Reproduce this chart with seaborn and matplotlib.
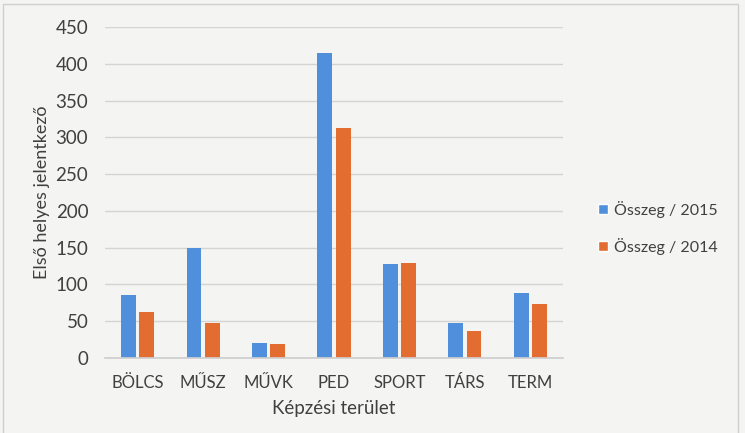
import matplotlib
matplotlib.use("Agg")
import matplotlib.pyplot as plt
import seaborn as sns
import pandas as pd
from matplotlib.patches import Rectangle

categories = ["BÖLCS", "MŰSZ", "MŰVK", "PED", "SPORT", "TÁRS", "TERM"]
values_2015 = [86, 150, 20, 414, 128, 47, 89]
values_2014 = [63, 48, 19, 313, 129, 37, 73]
series_names = ["Összeg / 2015", "Összeg / 2014"]
yticks = [0, 50, 100, 150, 200, 250, 300, 350, 400, 450]

df = pd.DataFrame({
    "cat": categories * 2,
    "val": values_2015 + values_2014,
    "series": [series_names[0]] * len(categories) + [series_names[1]] * len(categories),
})

sns.set_theme(style="white")
plt.rcParams["font.family"] = ["Lato", "DejaVu Sans"]

bg = "#f4f4f3"
fig = plt.figure(figsize=(7.45, 4.33), dpi=100, facecolor=bg)
ax = fig.add_axes([105 / 745, 1 - 358 / 433, (563 - 105) / 745, (358 - 27) / 433])
ax.set_facecolor(bg)

sns.barplot(data=df, x="cat", y="val", hue="series", order=categories,
            hue_order=series_names, palette=["#4f8fdb", "#e36c31"],
            width=0.56, saturation=1, ax=ax, legend=True)

# narrow bars leaving a small gap within each group
for p in ax.patches:
    w = p.get_width()
    if w > 0:
        c = p.get_x() + w / 2
        nw = 0.228
        p.set_width(nw)
        p.set_x(c - nw / 2)
        p.set_linewidth(0)

ax.set_ylim(0, 450)
ax.set_xlim(-0.5, len(categories) - 0.5)
ax.set_yticks(yticks)
ax.yaxis.grid(True, color="#d4d4d4", linewidth=1)
ax.set_axisbelow(True)
for s in ["top", "right", "left"]:
    ax.spines[s].set_visible(False)
ax.spines["bottom"].set_color("#cfcfcf")
ax.tick_params(axis="both", length=0, colors="#404040")
ax.tick_params(axis="y", pad=12, labelsize=13.5)
ax.tick_params(axis="x", pad=12, labelsize=12)
ax.set_xlabel("Képzési terület", fontsize=13.5, color="#404040", labelpad=7)
ax.set_ylabel("Első helyes jelentkező", fontsize=13, color="#404040", labelpad=4)

leg = ax.legend(loc="center left", bbox_to_anchor=(584 / 745, 1 - 228 / 433),
                bbox_transform=fig.transFigure, frameon=False, fontsize=11.5,
                handlelength=0.6, handleheight=0.6, handletextpad=0.4,
                labelspacing=1.25, labelcolor="#404040")

fig.patches.append(Rectangle((3 / 745, -0.01), (738 - 3) / 745, 1 - 4 / 433 + 0.01,
                             transform=fig.transFigure, fill=False,
                             edgecolor="#d0d0d0", linewidth=1))

fig.savefig("out.png", dpi=100, facecolor=bg)
